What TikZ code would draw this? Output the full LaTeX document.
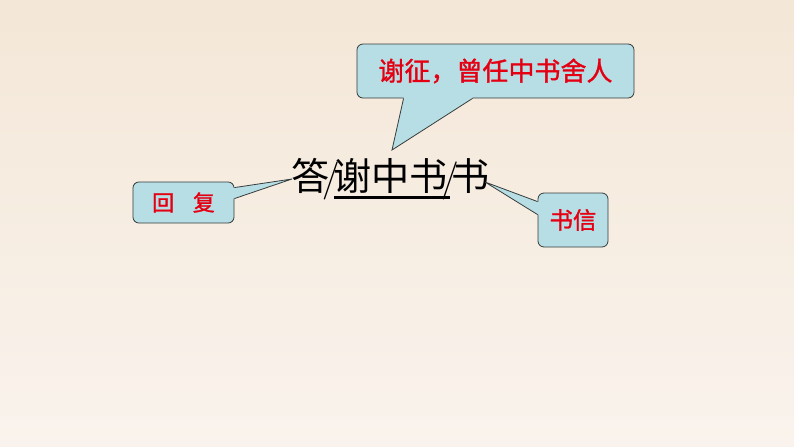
\documentclass[tikz,border=0pt]{standalone}
\usepackage{fontspec}
\newfontfamily\cjk{Noto Sans CJK SC}
\newfontfamily\cjknote{Noto Sans CJK SC}[FakeBold=1.2]
\usetikzlibrary{positioning, calc}
\definecolor{bgtop}{RGB}{243,231,215}
\definecolor{bgbot}{RGB}{250,243,237}
\definecolor{notefill}{RGB}{183,222,228}
\definecolor{noteline}{RGB}{55,60,60}
\definecolor{notered}{RGB}{228,0,18}
\newcommand{\titlebar}[1]{\setbox0\hbox{#1}\vtop{\copy0\nointerlineskip\kern2.6pt\hbox to\wd0{\kern0.3pt\vrule height 1.8pt width 87.5pt\hss}}}
\newcommand{\thinslash}{\hbox to 3pt{\hss\rmfamily/\hss}}

\begin{document}
\begin{tikzpicture}[
    x=0.75pt, y=-0.75pt,
    note/.style={rectangle, draw=noteline, line width=0.6pt, fill=notefill, rounded corners=4.5pt, inner sep=0pt, text=notered},
    tail/.style={draw=noteline, line width=0.6pt, line join=miter}
]

% Background
\shade[top color=bgtop, bottom color=bgbot] (0,0) rectangle (794,447);

% Title
\node[anchor=base west, inner sep=0pt, font=\cjk\fontsize{28.6}{30}\selectfont] (title) at (291,190) {答\thinslash{}\titlebar{谢中书}\thinslash{}书};

% Notes
\node[note, minimum width=207.8pt, minimum height=40.5pt, font=\cjknote\fontsize{19.5}{20}\selectfont] (fact) at (495.5,71) {谢征，曾任中书舍人};
\node[note, minimum width=75.8pt, minimum height=30.8pt, font=\cjknote\fontsize{16.5}{17}\selectfont] (reply) at (183.5,202.5) {回\hspace{0.85em}复};
\node[note, minimum width=52.5pt, minimum height=40.5pt, font=\cjknote\fontsize{17.6}{18}\selectfont] (letter) at (573,220) {\raisebox{-3pt}{书信}};

% Tail tips
\coordinate (tipfact) at (392,150);
\coordinate (tipreply) at (292,179);
\coordinate (tipletter) at (485,182);

% Tails
\coordinate (f1) at ($(fact.south west)+(47,0)$);
\coordinate (f2) at ($(fact.south west)+(116,0)$);
\fill[notefill] ($(f1)+(0,-1.5)$) -- (f1) -- (tipfact) -- (f2) -- ($(f2)+(0,-1.5)$) -- cycle;
\draw[tail] (f1) -- (tipfact) -- (f2);

\coordinate (r1) at ($(reply.north east)+(0,6)$);
\coordinate (r2) at ($(reply.north east)+(0,17)$);
\fill[notefill] ($(r1)+(-1.5,0)$) -- (r1) -- (tipreply) -- (r2) -- ($(r2)+(-1.5,0)$) -- cycle;
\draw[tail] (r1) -- (tipreply) -- (r2);

\coordinate (l1) at ($(letter.north west)+(0,9)$);
\coordinate (l2) at ($(letter.north west)+(0,22)$);
\fill[notefill] ($(l1)+(1.5,0)$) -- (l1) -- (tipletter) -- (l2) -- ($(l2)+(1.5,0)$) -- cycle;
\draw[tail] (l1) -- (tipletter) -- (l2);

\end{tikzpicture}
\end{document}
